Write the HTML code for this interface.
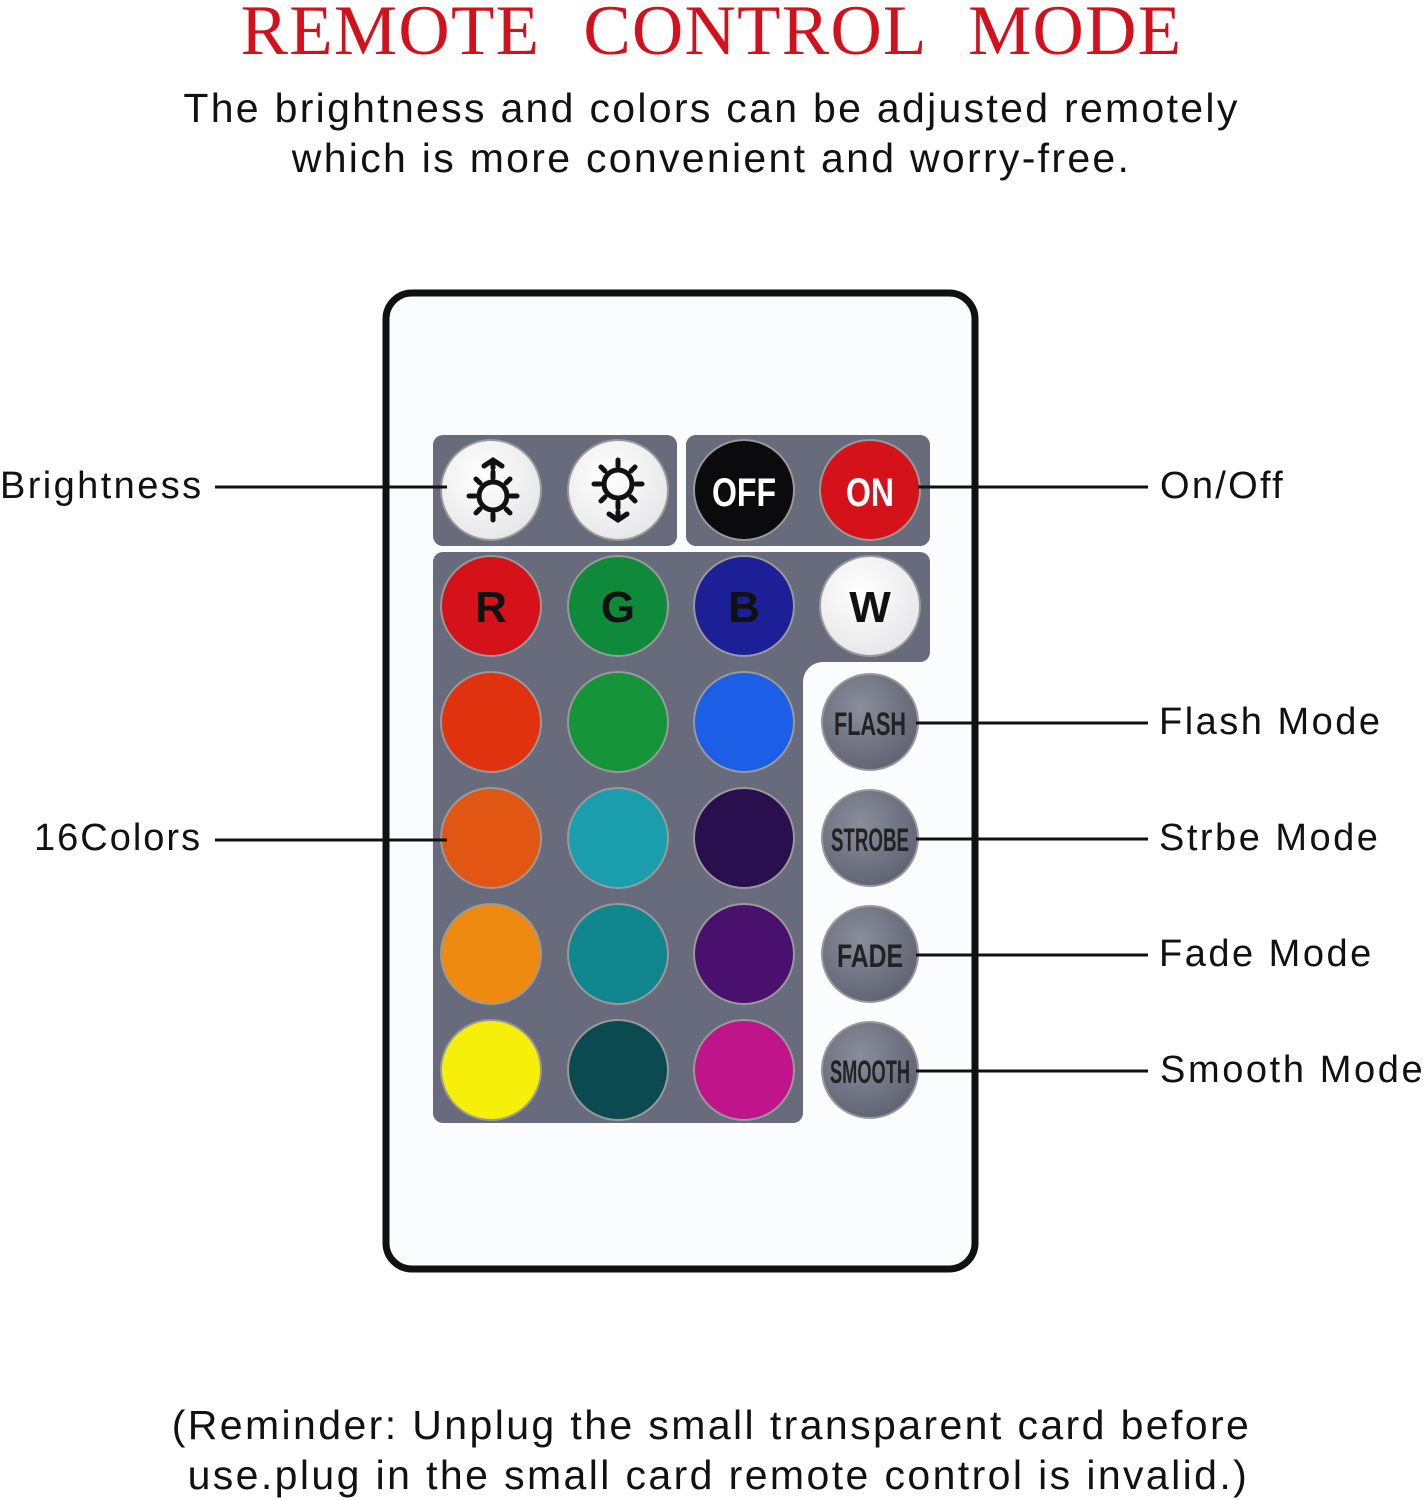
<!DOCTYPE html>
<html><head><meta charset="utf-8"><style>
body{margin:0;width:1423px;height:1500px;background:#fff;position:relative;overflow:hidden;font-family:"Liberation Sans",sans-serif;}
.t{position:absolute;white-space:nowrap;color:#111;}
</style></head><body>
<div class="t" style="left:0;width:1423px;top:-9px;text-align:center;font-family:'Liberation Serif',serif;font-size:71px;color:#d2111c;letter-spacing:1.3px;word-spacing:24px;">REMOTE CONTROL MODE</div>
<div class="t" style="left:0;width:1423px;top:83px;text-align:center;font-size:41px;letter-spacing:2.3px;line-height:50px;">The brightness and colors can be adjusted remotely<br>which is more convenient and worry-free.</div>

<svg style="position:absolute;left:0;top:0" width="1423" height="1500">
<defs>
<radialGradient id="gw" cx="40%" cy="35%" r="70%"><stop offset="0" stop-color="#fff"/><stop offset="1" stop-color="#e6e6e8"/></radialGradient>
<radialGradient id="gg" cx="40%" cy="35%" r="70%"><stop offset="0" stop-color="#8a8d9a"/><stop offset="1" stop-color="#5f6270"/></radialGradient>
</defs>
<rect x="386" y="293" width="589" height="976" rx="26" fill="#fbfcfe" stroke="#111" stroke-width="7"/>
<g fill="#676b7b">
<rect x="433" y="435" width="244" height="111" rx="10"/>
<rect x="686" y="435" width="244" height="111" rx="10"/>
<path d="M443 552 H920 a10 10 0 0 1 10 10 V652 a10 10 0 0 1 -10 10 H823 a20 20 0 0 0 -20 20 V1113 a10 10 0 0 1 -10 10 H443 a10 10 0 0 1 -10 -10 V562 a10 10 0 0 1 10 -10Z"/>
</g>
<g stroke="#999" stroke-width="2">
<circle cx="491" cy="490" r="50" fill="url(#gw)"/>
<circle cx="618" cy="490" r="50" fill="url(#gw)"/>
<circle cx="744" cy="490" r="50" fill="#0b0b0d"/>
<circle cx="870" cy="490" r="50" fill="#d5121a"/>
<circle cx="491" cy="606" r="50" fill="#d5111a"/>
<circle cx="618" cy="606" r="50" fill="#0f8a3a"/>
<circle cx="744" cy="606" r="50" fill="#1c1f96"/>
<circle cx="870" cy="606" r="50" fill="url(#gw)"/>
<circle cx="491" cy="722" r="50" fill="#e0320f"/>
<circle cx="618" cy="722" r="50" fill="#16943a"/>
<circle cx="744" cy="722" r="50" fill="#1c5fe6"/>
<circle cx="491" cy="838" r="50" fill="#e25614"/>
<circle cx="618" cy="838" r="50" fill="#1a9eae"/>
<circle cx="744" cy="838" r="50" fill="#2a0f4e"/>
<circle cx="491" cy="954" r="50" fill="#ee8a10"/>
<circle cx="618" cy="954" r="50" fill="#10868e"/>
<circle cx="744" cy="954" r="50" fill="#4a106e"/>
<circle cx="491" cy="1070" r="50" fill="#f5ef0a"/>
<circle cx="618" cy="1070" r="50" fill="#0a4a50"/>
<circle cx="744" cy="1070" r="50" fill="#c0158a"/>
<circle cx="870" cy="722" r="48" fill="url(#gg)"/>
<circle cx="870" cy="838" r="48" fill="url(#gg)"/>
<circle cx="870" cy="954" r="48" fill="url(#gg)"/>
<circle cx="870" cy="1070" r="48" fill="url(#gg)"/>
</g>
<g stroke="#111" stroke-width="5" fill="none" stroke-linecap="round">
<circle cx="493" cy="496" r="14"/>
<path d="M493 478v-6M493 514v6M475 496h-6M511 496h6M480 483l-4-4M506 483l4-4M480 509l-4 4M506 509l4 4M484 466l9-6 9 6M493 460v8"/>
<circle cx="618" cy="484" r="14"/>
<path d="M618 466v-6M618 502v6M600 484h-6M636 484h6M605 471l-4-4M631 471l4-4M605 497l-4 4M631 497l4 4M609 514l9 6 9-6M618 520v-8"/>
</g>
<g font-family="'Liberation Sans',sans-serif" font-weight="bold" text-anchor="middle">
<text x="744" y="506" font-size="40" fill="#fff" textLength="64" lengthAdjust="spacingAndGlyphs">OFF</text>
<text x="870" y="506" font-size="40" fill="#fff" textLength="48" lengthAdjust="spacingAndGlyphs">ON</text>
<text x="491" y="622" font-size="44" fill="#111">R</text>
<text x="618" y="622" font-size="44" fill="#111">G</text>
<text x="744" y="622" font-size="44" fill="#111">B</text>
<text x="870" y="622" font-size="44" fill="#111">W</text>
<text x="870" y="735" font-size="32" fill="#222" textLength="72" lengthAdjust="spacingAndGlyphs">FLASH</text>
<text x="870" y="851" font-size="32" fill="#222" textLength="78" lengthAdjust="spacingAndGlyphs">STROBE</text>
<text x="870" y="967" font-size="32" fill="#222" textLength="66" lengthAdjust="spacingAndGlyphs">FADE</text>
<text x="870" y="1083" font-size="32" fill="#222" textLength="80" lengthAdjust="spacingAndGlyphs">SMOOTH</text>
</g>
<g stroke="#111" stroke-width="3">
<line x1="215" y1="487" x2="447" y2="487"/>
<line x1="918" y1="487" x2="1148" y2="487"/>
<line x1="215" y1="840" x2="447" y2="840"/>
<line x1="916" y1="723" x2="1148" y2="723"/>
<line x1="916" y1="839" x2="1148" y2="839"/>
<line x1="916" y1="955" x2="1148" y2="955"/>
<line x1="916" y1="1071" x2="1148" y2="1071"/>
</g>
</svg>

<div class="t" style="left:0;top:465px;font-size:38px;letter-spacing:2.4px;">Brightness</div>
<div class="t" style="left:34px;top:817px;font-size:38px;letter-spacing:2px;">16Colors</div>
<div class="t" style="left:1160px;top:465px;font-size:38px;letter-spacing:2.3px;">On/Off</div>
<div class="t" style="left:1159px;top:701px;font-size:38px;letter-spacing:2.5px;">Flash Mode</div>
<div class="t" style="left:1159px;top:817px;font-size:38px;letter-spacing:2.5px;">Strbe Mode</div>
<div class="t" style="left:1159px;top:933px;font-size:38px;letter-spacing:2.5px;">Fade Mode</div>
<div class="t" style="left:1160px;top:1049px;font-size:38px;letter-spacing:2.6px;">Smooth Mode</div>

<div class="t" style="left:0;width:1423px;top:1400px;text-align:center;font-size:41px;letter-spacing:2.4px;line-height:50px;">(Reminder: Unplug the small transparent card before<br>&nbsp;use.plug in the small card remote control is invalid.)</div>
</body></html>
